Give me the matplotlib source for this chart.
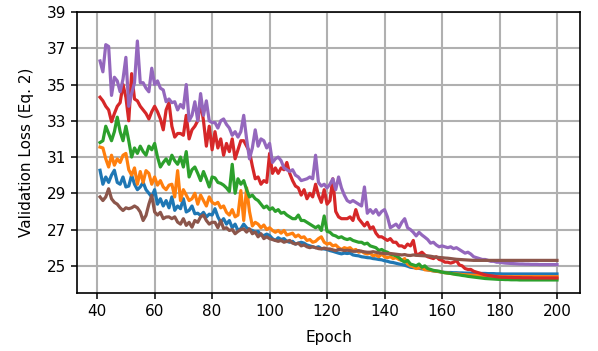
import numpy as np
import matplotlib
matplotlib.use("Agg")
import matplotlib.pyplot as plt

epochs = list(range(41, 201))

loss_blue = [
    30.27, 29.5, 29.9, 29.6, 30.0, 30.27, 29.6, 29.5, 29.9, 29.35,
    29.4, 30.0, 29.5, 29.2, 29.35, 29.6, 29.2, 29.0, 28.8, 29.2,
    28.4, 28.7, 28.3, 28.6, 28.2, 28.8, 28.06, 28.3, 28.15, 28.7,
    27.97, 28.06, 28.3, 27.87, 27.9, 27.78, 27.95, 27.69, 27.85, 27.8,
    28.15, 27.7, 27.4, 27.6, 27.3, 27.5, 27.1, 27.3, 26.95, 27.05,
    27.3, 27.1, 27.0, 26.95, 26.86, 26.9, 26.7, 26.67, 26.75, 26.67,
    26.5, 26.4, 26.55, 26.45, 26.5, 26.35, 26.3, 26.35, 26.2, 26.25,
    26.3, 26.25, 26.15, 26.1, 26.05, 26.0, 26.05, 25.95, 25.93, 25.9,
    25.84, 25.8, 25.75, 25.7, 25.66, 25.7, 25.68, 25.7, 25.6, 25.57,
    25.55, 25.5, 25.48, 25.45, 25.44, 25.4, 25.38, 25.35, 25.33, 25.28,
    25.25, 25.2, 25.18, 25.14, 25.1, 25.07, 25.03, 24.98, 24.92, 24.9,
    24.88, 24.86, 24.83, 24.81, 24.78, 24.75, 24.72, 24.7, 24.68, 24.65,
    24.64, 24.63, 24.63, 24.62, 24.62, 24.61, 24.61, 24.6, 24.6, 24.6,
    24.59, 24.59, 24.58, 24.58, 24.58, 24.57, 24.57, 24.57, 24.56, 24.56,
    24.55, 24.55, 24.55, 24.55, 24.55, 24.55, 24.55, 24.55, 24.55, 24.55,
    24.55, 24.55, 24.55, 24.55, 24.55, 24.55, 24.55, 24.55, 24.55, 24.55,
]

loss_orange = [
    31.55, 31.5, 30.9, 30.45, 31.1, 30.55, 30.9, 30.7, 31.1, 31.2,
    30.3, 30.0, 30.4, 29.5, 30.2, 29.6, 30.25, 30.1, 29.5, 29.9,
    29.45, 29.7, 29.35, 29.2, 29.45, 29.5, 28.8, 30.25, 28.6, 29.2,
    28.9, 28.6, 28.7, 29.0, 28.4, 28.9, 28.6, 28.3, 28.8, 28.5,
    28.4, 28.5, 28.2, 28.3, 27.95, 27.8, 28.1, 27.7, 27.8, 29.15,
    27.5, 29.3, 28.0, 27.2, 27.4, 27.3, 27.1, 27.25, 27.0, 27.1,
    26.95, 26.85, 26.95, 26.8, 26.95, 26.7, 26.75, 26.8, 26.6, 26.7,
    26.55, 26.6, 26.4, 26.45, 26.3, 26.35, 26.5, 26.6, 26.3, 26.2,
    26.25, 26.1, 26.15, 26.0, 25.9, 26.0, 25.95, 26.0, 25.85, 25.9,
    25.75, 25.8, 25.7, 25.65, 25.7, 25.55, 25.6, 25.5, 25.65, 25.5,
    25.45, 25.5, 25.4, 25.45, 25.35, 25.3, 25.4, 25.1, 25.0, 24.95,
    24.85, 24.88, 24.9, 24.78, 24.77, 24.75, 24.72, 24.7, 24.68, 24.65,
    24.62, 24.6, 24.58, 24.56, 24.55, 24.54, 24.52, 24.51, 24.5, 24.49,
    24.48, 24.47, 24.46, 24.45, 24.44, 24.43, 24.42, 24.42, 24.41, 24.41,
    24.4, 24.4, 24.4, 24.4, 24.4, 24.4, 24.4, 24.4, 24.4, 24.4,
    24.4, 24.4, 24.4, 24.4, 24.4, 24.4, 24.4, 24.4, 24.4, 24.4,
]

loss_green = [
    31.8, 31.9, 32.7, 32.3, 31.9, 32.4, 33.2, 32.4, 31.9, 32.7,
    31.9, 31.0, 31.5, 31.2, 31.6, 31.3, 31.1, 31.6, 31.4, 31.75,
    31.0, 30.45, 30.7, 30.9, 30.6, 31.1, 30.8, 30.6, 31.0, 30.45,
    31.3, 29.9, 30.3, 30.45, 30.1, 29.7, 30.2, 29.8, 29.35, 29.9,
    29.85, 29.6, 29.55, 29.45, 29.3, 29.1, 30.6, 29.0, 29.8, 29.5,
    29.7, 29.2, 28.8, 28.9, 28.7, 28.6, 28.4, 28.2, 28.3, 28.1,
    28.2, 28.0, 28.1, 27.9, 27.95, 27.8, 27.7, 27.6, 27.6, 27.8,
    27.5, 27.5, 27.4, 27.3, 27.2, 27.1, 27.2, 26.95, 27.75, 26.9,
    26.85, 26.7, 26.65, 26.55, 26.6, 26.5, 26.45, 26.5, 26.4, 26.35,
    26.3, 26.3, 26.2, 26.25, 26.1, 26.05, 26.0, 25.85, 25.9, 25.8,
    25.75, 25.65, 25.6, 25.55, 25.45, 25.3, 25.2, 25.3, 25.1, 25.05,
    25.0, 25.1, 24.92, 25.0, 24.85, 24.8, 24.75, 24.72, 24.7, 24.65,
    24.62, 24.6, 24.58, 24.55, 24.52, 24.5, 24.47, 24.45, 24.42, 24.4,
    24.38, 24.36, 24.34, 24.32, 24.3, 24.29, 24.28, 24.27, 24.26, 24.25,
    24.25, 24.24, 24.24, 24.23, 24.23, 24.23, 24.22, 24.22, 24.22, 24.22,
    24.22, 24.22, 24.22, 24.22, 24.22, 24.22, 24.22, 24.22, 24.22, 24.22,
]

loss_red = [
    34.3, 34.1, 33.8, 33.6, 32.95, 33.4, 33.8, 34.0, 35.0, 34.3,
    33.0, 35.6, 34.2, 34.1, 33.8, 33.6, 33.4, 33.1, 33.5, 33.8,
    33.5, 33.1, 32.5, 33.6, 34.0, 32.7, 32.1, 32.3, 32.3, 32.2,
    33.3, 32.0, 32.5, 32.7, 33.0, 34.05, 33.0, 31.6, 32.7, 31.4,
    32.4, 31.5, 32.0, 31.1, 31.75, 31.3, 32.0, 30.9, 31.4, 31.9,
    31.9, 31.6, 31.3, 30.5, 29.8, 29.9, 29.5, 29.7, 29.6, 31.2,
    30.1, 30.4, 30.1, 30.4, 30.3, 30.7, 30.1, 29.7, 29.4, 29.3,
    28.9, 29.2, 28.7, 29.0, 28.8, 29.5, 28.9, 28.5, 29.2, 28.4,
    28.6, 29.8, 28.0, 27.7, 27.6, 27.6, 27.6, 27.7, 27.5, 28.1,
    27.6, 27.4, 27.2, 27.4, 27.05, 27.15, 26.8, 26.6, 26.6, 26.5,
    26.4, 26.5, 26.3, 26.3, 26.1, 26.1, 26.0, 26.2, 26.1, 26.4,
    25.6, 25.65, 25.75, 25.6, 25.5, 25.45, 25.4, 25.5, 25.35, 25.3,
    25.2, 25.2, 25.15, 25.2, 25.3, 25.05, 25.0, 24.85, 24.8, 24.8,
    24.7, 24.65, 24.6, 24.55, 24.5, 24.47, 24.45, 24.42, 24.4, 24.38,
    24.37, 24.37, 24.36, 24.36, 24.35, 24.35, 24.35, 24.34, 24.34, 24.34,
    24.34, 24.33, 24.33, 24.33, 24.33, 24.33, 24.33, 24.33, 24.33, 24.33,
]

loss_purple = [
    36.3, 35.7, 37.2, 37.1, 34.4, 35.4, 35.2, 34.6, 35.3, 36.5,
    33.8, 34.5, 35.1, 37.4, 35.1, 35.1, 34.8, 34.6, 35.9, 35.0,
    35.2, 34.8, 34.7, 34.05, 34.2, 34.0, 34.05, 33.6, 33.9, 33.7,
    35.0, 33.0, 33.3, 34.05, 33.0, 34.5, 33.3, 34.1, 33.0, 32.9,
    32.9, 32.6, 33.0, 33.1, 32.8, 32.6, 32.2, 32.4, 32.1, 32.4,
    33.3, 32.0, 30.9, 31.5, 32.5, 31.6, 32.0, 31.9, 31.5, 31.75,
    30.7, 30.9, 31.0, 30.8, 30.4, 30.3, 30.2, 30.3, 30.0, 29.9,
    29.7, 29.75, 29.8, 29.9, 29.8, 31.1, 29.6, 29.4, 29.5, 29.3,
    29.5, 29.8, 29.2, 29.9, 29.3, 28.9, 28.6, 28.5, 28.6, 28.5,
    28.4, 28.3, 29.35, 27.9, 28.1, 27.9, 28.1, 27.8, 28.0, 28.1,
    27.7, 27.1, 27.2, 27.3, 27.1, 27.4, 27.6, 27.1, 27.0, 26.85,
    26.65, 26.85, 26.7, 26.58, 26.45, 26.25, 26.3, 26.15, 26.05, 26.1,
    26.05, 26.0, 26.05, 25.95, 26.0, 25.9, 25.8, 25.7, 25.75, 25.65,
    25.5, 25.45, 25.4, 25.35, 25.35, 25.3, 25.25, 25.25, 25.2, 25.2,
    25.17, 25.15, 25.14, 25.13, 25.12, 25.11, 25.1, 25.1, 25.09, 25.09,
    25.08, 25.08, 25.08, 25.07, 25.07, 25.07, 25.07, 25.07, 25.07, 25.07,
]

loss_brown = [
    28.8, 28.6, 28.8, 29.25, 28.7, 28.5, 28.4, 28.2, 28.05, 28.2,
    28.15, 28.2, 28.3, 28.2, 27.97, 27.5, 27.78, 28.4, 28.89, 27.97,
    27.8, 27.95, 27.6, 27.69, 27.7, 27.6, 27.7, 27.41, 27.3, 27.6,
    27.23, 27.4, 27.13, 27.5, 27.4, 27.7, 27.8, 27.5, 27.3, 27.4,
    27.4, 27.1, 27.5, 27.05, 27.1, 26.95, 27.0, 26.77, 26.9, 27.0,
    27.04, 26.86, 27.04, 26.77, 26.86, 26.6, 26.77, 26.5, 26.6, 26.5,
    26.45, 26.4, 26.35, 26.4, 26.3, 26.35, 26.4, 26.25, 26.2, 26.25,
    26.1, 26.15, 26.05, 26.0, 26.05, 26.0, 25.95, 25.93, 25.98, 25.93,
    25.93, 25.88, 25.84, 25.9, 25.88, 25.84, 25.86, 25.84, 25.8, 25.8,
    25.84, 25.8, 25.77, 25.75, 25.75, 25.78, 25.75, 25.7, 25.7, 25.68,
    25.66, 25.68, 25.66, 25.64, 25.62, 25.6, 25.62, 25.58, 25.57, 25.6,
    25.58, 25.57, 25.56, 25.55, 25.55, 25.53, 25.5, 25.48, 25.46, 25.45,
    25.43, 25.42, 25.4, 25.38, 25.36, 25.35, 25.34, 25.33, 25.32, 25.31,
    25.3, 25.3, 25.3, 25.3, 25.3, 25.3, 25.3, 25.3, 25.3, 25.3,
    25.3, 25.3, 25.3, 25.3, 25.3, 25.3, 25.3, 25.3, 25.3, 25.3,
    25.3, 25.3, 25.3, 25.3, 25.3, 25.3, 25.3, 25.3, 25.3, 25.3,
]

series = [loss_blue, loss_orange, loss_green, loss_red, loss_purple, loss_brown]
colors = ['C0', 'C1', 'C2', 'C3', 'C4', 'C5']

plt.rcParams['font.size'] = 11
plt.rcParams['axes.linewidth'] = 1.2
plt.rcParams['xtick.major.size'] = 4.5
plt.rcParams['ytick.major.size'] = 4.5
plt.rcParams['xtick.major.width'] = 1.1
plt.rcParams['ytick.major.width'] = 1.1

fig = plt.figure(figsize=(5.98, 3.51), dpi=100)
ax = fig.add_axes([0.1288, 0.1652, 0.8411, 0.8006])

for vals, c in zip(series, colors):
    ax.plot(epochs, vals, color=c, lw=2.3)

ax.set_xlim(33, 208)
ax.set_ylim(23.5, 39)
ax.set_xticks(np.arange(40, 201, 20))
ax.set_yticks(np.arange(25, 40, 2))
ax.grid(True, color='#b0b0b0', lw=1.5)
ax.set_axisbelow(True)
ax.set_xlabel('Epoch', labelpad=8)
ax.set_ylabel('Validation Loss (Eq. 2)', labelpad=9)

fig.savefig('out.png', dpi=100)
